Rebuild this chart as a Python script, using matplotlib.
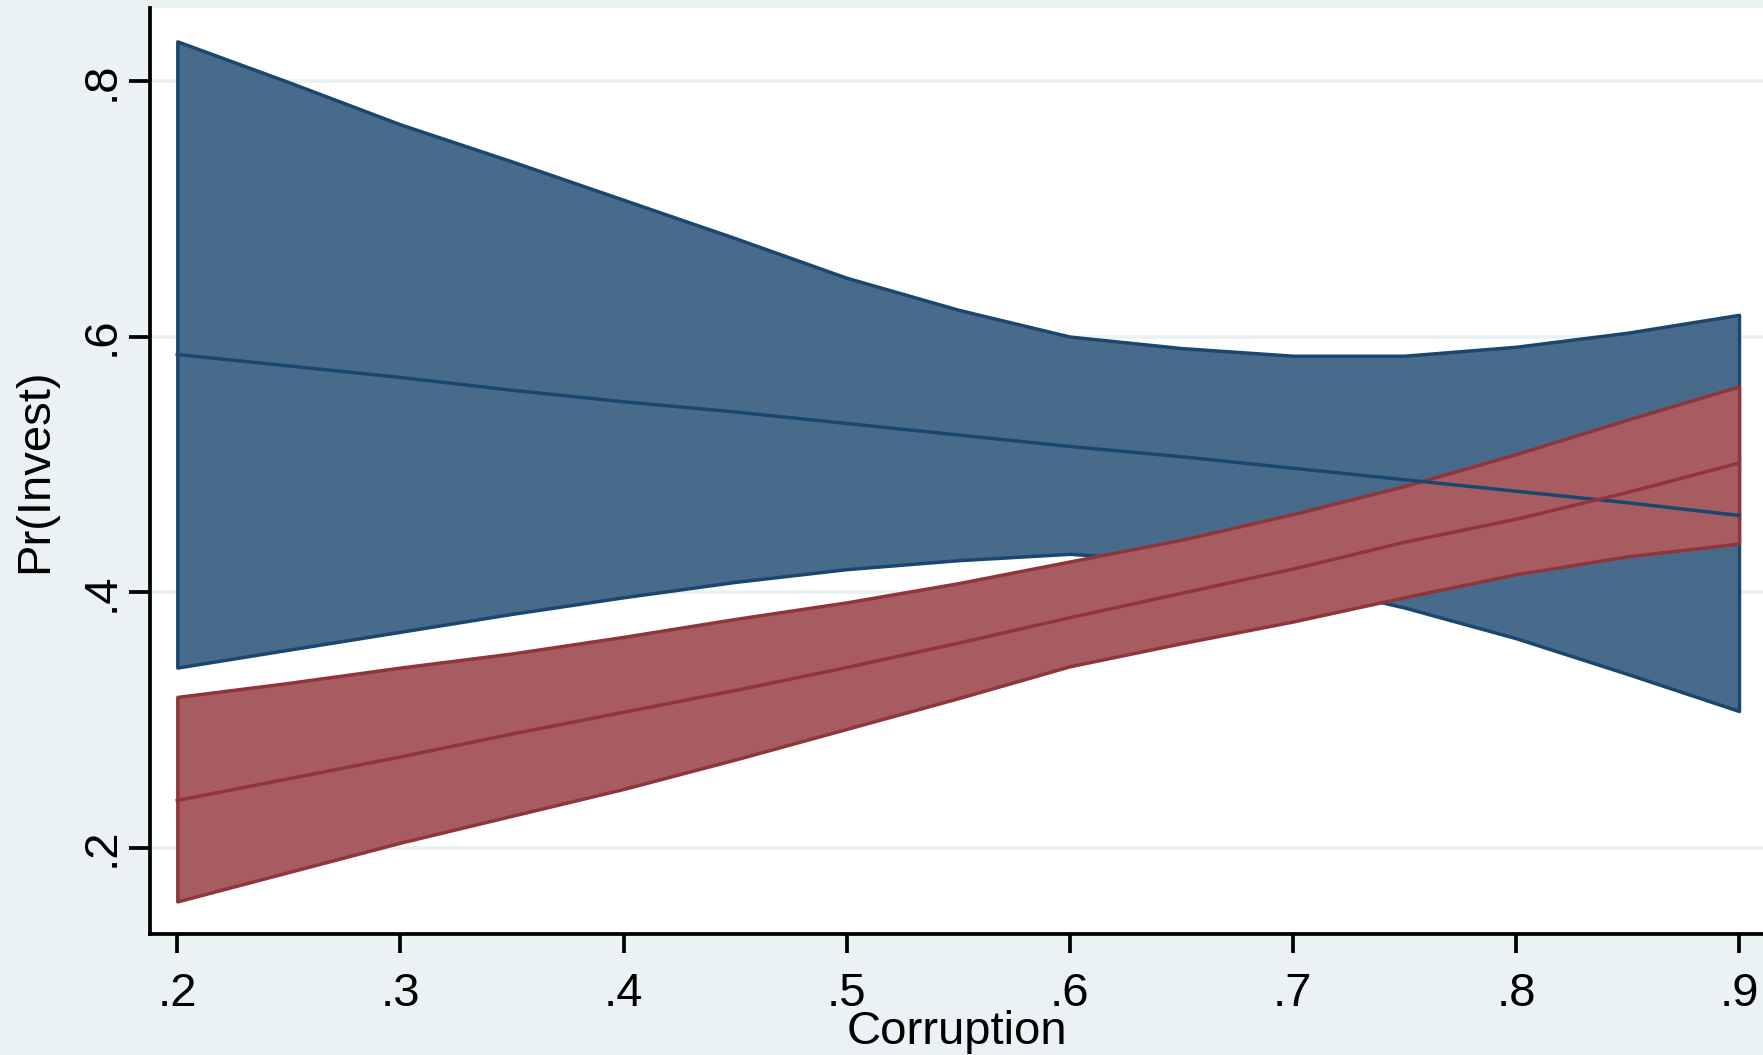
import matplotlib
matplotlib.use("Agg")
import matplotlib.pyplot as plt

# values (margins of Pr(Invest) over Corruption)
corruption = [0.20, 0.25, 0.30, 0.35, 0.40, 0.45, 0.50, 0.55,
              0.60, 0.65, 0.70, 0.75, 0.80, 0.85, 0.90]

blue_hi = [0.831, 0.799, 0.766, 0.737, 0.707, 0.677, 0.646, 0.621,
           0.600, 0.591, 0.585, 0.585, 0.592, 0.603, 0.617]
blue_mid = [0.586, 0.577, 0.568, 0.558, 0.549, 0.541, 0.532, 0.523,
            0.514, 0.506, 0.497, 0.488, 0.479, 0.470, 0.460]
blue_lo = [0.341, 0.355, 0.369, 0.383, 0.396, 0.408, 0.418, 0.425,
           0.430, 0.424, 0.408, 0.388, 0.364, 0.336, 0.307]

red_hi = [0.318, 0.329, 0.341, 0.352, 0.365, 0.379, 0.392, 0.407,
          0.424, 0.441, 0.461, 0.483, 0.508, 0.535, 0.561]
red_mid = [0.237, 0.254, 0.271, 0.289, 0.306, 0.323, 0.341, 0.360,
           0.380, 0.399, 0.418, 0.439, 0.457, 0.478, 0.501]
red_lo = [0.158, 0.181, 0.204, 0.225, 0.246, 0.269, 0.293, 0.317,
          0.342, 0.360, 0.377, 0.396, 0.414, 0.428, 0.438]

xticks = [0.2, 0.3, 0.4, 0.5, 0.6, 0.7, 0.8, 0.9]
xticklabels = [".2", ".3", ".4", ".5", ".6", ".7", ".8", ".9"]
yticks = [0.2, 0.4, 0.6, 0.8]
yticklabels = [".2", ".4", ".6", ".8"]

bg = "#EAF2F3"
navy = "#1A476F"
navy_fill = "#486B8C"
maroon = "#90353B"
maroon_fill = "#A65C60"

plt.rcParams["font.family"] = ["Liberation Sans", "DejaVu Sans"]

fig = plt.figure(figsize=(17.63, 10.55), dpi=100, facecolor=bg)
ax = fig.add_axes([150 / 1763, (1055 - 933.5) / 1055, 1 - 150 / 1763, (933.5 - 8) / 1055])
ax.set_facecolor("white")

ax.fill_between(corruption, blue_lo, blue_hi, facecolor=navy_fill,
                edgecolor=navy, lw=2.5, zorder=2)
ax.fill_between(corruption, red_lo, red_hi, facecolor=maroon_fill,
                edgecolor=maroon, lw=2.5, zorder=3)
ax.plot(corruption, blue_mid, color=navy, lw=2.5, zorder=4)
ax.plot(corruption, red_mid, color=maroon, lw=2.5, zorder=5)

ax.set_xlim(0.18776, 0.91076)
ax.set_ylim(0.1329, 0.8571)

ax.set_xticks(xticks)
ax.set_xticklabels(xticklabels, fontsize=34)
ax.set_yticks(yticks)
ax.set_yticklabels(yticklabels, fontsize=34, rotation=90, va="center")

ax.tick_params(axis="x", length=13.5, width=2.7, pad=14, color="black")
ax.tick_params(axis="y", length=15, width=2.7, pad=4, color="black")

ax.yaxis.grid(True, color=bg, lw=2.7, zorder=0)
ax.set_axisbelow(True)

for side in ["top", "right"]:
    ax.spines[side].set_visible(False)
for side in ["left", "bottom"]:
    ax.spines[side].set_linewidth(2.7)
    ax.spines[side].set_color("black")

ax.set_xlabel("Corruption", fontsize=34)
ax.xaxis.set_label_coords(0.5, -0.0827)
ax.set_ylabel("Pr(Invest)", fontsize=34)
ax.yaxis.set_label_coords(-0.0575, 0.5)

fig.savefig("out.png", dpi=100, facecolor=bg)
